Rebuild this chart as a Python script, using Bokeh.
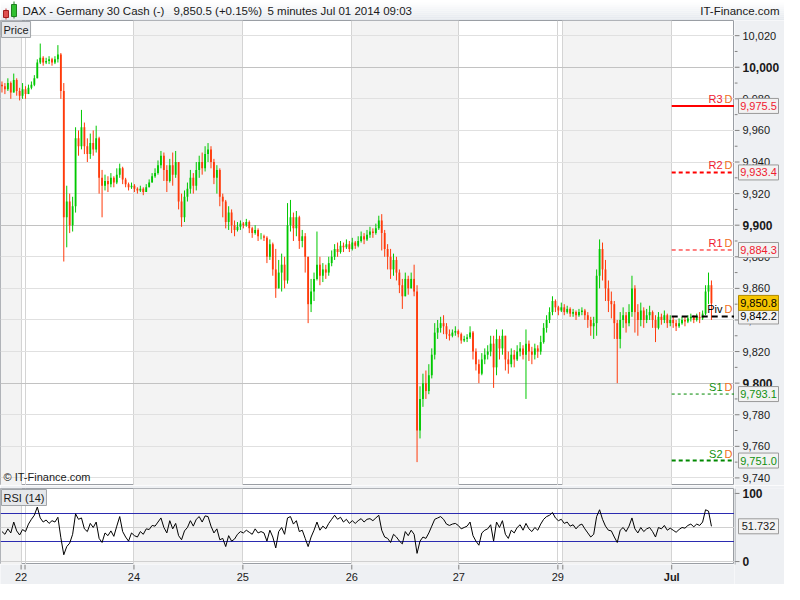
import numpy as np
from bokeh.plotting import figure
from bokeh.layouts import column, row
from bokeh.models import Range1d, Label, ColumnDataSource
from bokeh.core.properties import value
from bokeh.embed import file_html
from bokeh.resources import INLINE

FONT = "Liberation Sans"
AX_BG = "#eef0f3"
UP = "#00c800"
DOWN = "#ff3a0a"
TXT = "#1a1a1a"

# ---------------- data (5-minute DAX bars) ----------------
first_open = 9989.0
closes = [
    9988, 9986, 9990, 9984, 9992, 9985, 9982, 9986, 9983, 9987,
    9989, 9993, 10003, 10006, 10003, 10004, 10005, 10003, 10005, 10008,
    9985, 9905, 9915, 9900, 9912, 9955, 9950, 9962, 9950, 9945,
    9952, 9948, 9955, 9930, 9925, 9928, 9926, 9930, 9927, 9932,
    9936, 9929, 9926, 9924, 9925, 9923, 9922, 9923, 9921, 9924,
    9927, 9931, 9933, 9938, 9944, 9935, 9928, 9938, 9932, 9940,
    9915, 9905, 9918, 9923, 9930, 9925, 9935, 9940, 9936, 9945,
    9948, 9940, 9930, 9935, 9918, 9915, 9902, 9908, 9900, 9897,
    9899, 9901, 9900, 9902, 9898, 9895, 9897, 9893, 9893, 9892,
    9880, 9888, 9872, 9860, 9870, 9875, 9865, 9900, 9905, 9898,
    9905, 9890, 9893, 9880, 9850, 9858, 9866, 9875, 9868, 9872,
    9870, 9876, 9880, 9885, 9883, 9887, 9886, 9888, 9885, 9889,
    9887, 9890, 9893, 9891, 9894, 9896, 9895, 9898, 9903, 9895,
    9885, 9880, 9872, 9878, 9870, 9862, 9855, 9866, 9860, 9866,
    9858, 9770, 9790, 9800, 9795, 9805, 9818, 9832, 9835, 9838,
    9836, 9831, 9830, 9832, 9833, 9831, 9827, 9828, 9829, 9832,
    9820, 9812, 9806, 9815, 9818, 9820, 9825, 9810, 9828, 9822,
    9830, 9815, 9812, 9818, 9815, 9820, 9822, 9818, 9825, 9820,
    9818, 9822, 9820, 9826, 9835, 9840, 9845, 9852, 9848, 9846,
    9848, 9845, 9847, 9844, 9845, 9843, 9845, 9846, 9843, 9840,
    9836, 9838, 9868, 9885, 9872, 9860, 9852, 9850, 9838, 9828,
    9840, 9843, 9838, 9845, 9860, 9845, 9840, 9846, 9840, 9843,
    9845, 9840, 9835, 9842, 9840, 9843, 9838, 9840, 9838, 9836,
    9838, 9840, 9839, 9841, 9842, 9840, 9842, 9841, 9844, 9858,
    9862, 9850.5,
]
highs = [
    9991, 9990, 9993, 9991, 9996, 9993, 9987, 9990, 9988, 9989,
    9991, 9995, 10005, 10015, 10007, 10006, 10007, 10006, 10007, 10014,
    10009, 9990, 9925, 9920, 9918, 9962, 9960, 9973, 9965, 9955,
    9958, 9960, 9963, 9956, 9935, 9932, 9931, 9933, 9931, 9936,
    9939, 9937, 9930, 9927, 9927, 9926, 9924, 9925, 9924, 9926,
    9929, 9933, 9936, 9941, 9947, 9946, 9938, 9942, 9946, 9947,
    9940, 9920, 9922, 9927, 9935, 9933, 9940, 9944, 9946, 9950,
    9952, 9950, 9942, 9938, 9936, 9920, 9916, 9912, 9910, 9903,
    9902, 9903, 9902, 9904, 9903, 9899, 9900, 9898, 9895, 9894,
    9893, 9891, 9889, 9885, 9878, 9882, 9880, 9914, 9916, 9908,
    9909, 9906, 9897, 9895, 9880, 9866, 9870, 9896, 9880, 9876,
    9875, 9880, 9884, 9888, 9889, 9890, 9889, 9891, 9890, 9892,
    9890, 9893, 9896, 9895, 9897, 9899, 9898, 9901, 9906, 9907,
    9897, 9888, 9885, 9882, 9880, 9872, 9866, 9870, 9868, 9870,
    9875, 9862, 9798, 9806, 9808, 9812, 9822, 9838, 9840, 9842,
    9843, 9838, 9834, 9834, 9836, 9834, 9832, 9830, 9831, 9836,
    9833, 9822, 9815, 9819, 9822, 9824, 9830, 9830, 9834, 9830,
    9834, 9830, 9820, 9822, 9821, 9824, 9826, 9824, 9834, 9827,
    9823, 9825, 9824, 9830, 9838, 9843, 9848, 9855, 9853, 9849,
    9851, 9850, 9849, 9848, 9847, 9846, 9847, 9848, 9847, 9845,
    9842, 9842, 9872, 9891, 9889, 9878, 9865, 9858, 9852, 9840,
    9845, 9848, 9845, 9850, 9868, 9862, 9850, 9851, 9848, 9847,
    9849, 9846, 9843, 9845, 9844, 9846, 9844, 9843, 9842, 9840,
    9841, 9842, 9842, 9843, 9844, 9843, 9844, 9845, 9846, 9862,
    9870, 9865,
]
lows = [
    9984, 9983, 9985, 9980, 9984, 9982, 9979, 9980, 9980, 9983,
    9986, 9988, 9993, 10002, 10001, 10002, 10002, 10001, 10002, 10003,
    9980, 9877, 9886, 9895, 9896, 9908, 9944, 9948, 9945, 9940,
    9942, 9944, 9946, 9920, 9905, 9922, 9921, 9924, 9924, 9926,
    9930, 9926, 9924, 9922, 9923, 9921, 9920, 9921, 9919, 9922,
    9924, 9927, 9930, 9932, 9936, 9928, 9921, 9927, 9925, 9930,
    9910, 9899, 9902, 9915, 9920, 9920, 9922, 9930, 9932, 9934,
    9940, 9936, 9926, 9920, 9912, 9905, 9898, 9897, 9895, 9893,
    9896, 9897, 9898, 9899, 9895, 9892, 9894, 9890, 9891, 9890,
    9876, 9878, 9868, 9854, 9862, 9858, 9860, 9863, 9896, 9890,
    9893, 9885, 9886, 9870, 9838, 9845, 9852, 9865, 9862, 9864,
    9866, 9868, 9874, 9878, 9880, 9882, 9883, 9885, 9883, 9884,
    9885, 9886, 9889, 9888, 9890, 9892, 9892, 9894, 9897, 9884,
    9880, 9872, 9866, 9868, 9865, 9857, 9847, 9858, 9856, 9860,
    9855, 9750, 9765, 9785, 9790, 9793, 9803, 9815, 9828, 9832,
    9831, 9828, 9827, 9829, 9830, 9829, 9825, 9826, 9826, 9828,
    9815, 9808, 9800, 9805, 9812, 9815, 9817, 9797, 9805, 9815,
    9818, 9808, 9806, 9810, 9810, 9814, 9817, 9815, 9790, 9814,
    9812, 9815, 9816, 9818, 9825, 9832, 9838, 9843, 9845, 9843,
    9845, 9843, 9844, 9842, 9842, 9840, 9842, 9843, 9840, 9835,
    9830, 9828, 9830, 9860, 9865, 9852, 9845, 9841, 9828, 9800,
    9822, 9835, 9832, 9836, 9842, 9832, 9830, 9836, 9835, 9838,
    9840, 9835, 9826, 9834, 9837, 9838, 9835, 9836, 9835, 9833,
    9835, 9837, 9836, 9838, 9839, 9838, 9839, 9838, 9840, 9843,
    9850, 9840,
]
rsi = [
    44, 40, 48, 42, 58, 45, 39, 47, 44, 55,
    62, 68, 80, 64, 58, 61, 56, 60, 58, 65,
    35, 10, 22, 27, 40, 70, 62, 64, 48, 44,
    56, 50, 58, 34, 28, 42, 38, 45, 37, 52,
    66, 44, 36, 30, 42, 38, 36, 44, 40, 48,
    47, 53, 52, 58, 64, 50, 42, 60, 48, 56,
    38, 32, 45, 50, 60, 52, 62, 66, 58, 67,
    66, 52, 42, 48, 32, 34, 22, 38, 30, 33,
    40, 44, 42, 46, 43, 40, 48, 42, 44, 42,
    30, 46, 36, 20, 44, 50, 40, 64, 66, 55,
    60, 44, 46, 34, 22, 36, 46, 58, 46, 52,
    48, 56, 62, 68, 62, 65, 58, 62, 56, 60,
    56, 60, 63, 58, 62, 63, 60, 64, 68, 46,
    36, 34, 28, 40, 36, 30, 26, 44, 38, 46,
    40, 12, 30, 36, 34, 42, 52, 62, 64, 66,
    62, 55, 53, 55, 56, 53, 48, 50, 52, 58,
    38, 30, 24, 42, 46, 48, 54, 30, 58, 50,
    60, 40, 34, 46, 42, 50, 54, 46, 56, 48,
    44, 50, 46, 55, 62, 66, 68, 72, 64, 60,
    62, 56, 58, 52, 54, 48, 53, 55, 48, 42,
    36, 40, 66, 76, 62, 52, 46, 45, 36, 28,
    46, 50, 44, 52, 64, 48, 42, 50, 44, 48,
    50, 44, 36, 50, 48, 53, 46, 49, 46, 43,
    47, 50, 49, 53, 55, 51, 55, 53, 58, 76,
    74, 51.732,
]

# session boundaries (in bar units) and their labels
day_pos = [6.5, 7.83, 44.83, 81.83, 118.83, 155.17, 188.83, 190.5, 227.5]
day_labels = ["22", "", "24", "25", "26", "27", "29", "", "Jul"]
shade_start = [-0.5, 44.83, 118.83, 190.5]
shade_end = [6.5, 81.83, 155.17, 227.5]

price_ticks = [9740, 9760, 9780, 9800, 9820, 9840, 9860, 9880, 9900, 9920, 9940, 9960, 9980, 10000, 10020]
price_major = [9800, 9900, 10000]
price_minor = [9750, 9770, 9790, 9810, 9830, 9850, 9870, 9890, 9910, 9930, 9950, 9970, 9990, 10010]

pivot_names = ["R3", "R2", "R1", "Piv", "S1", "S2"]
pivot_levels = [9975.5, 9933.4, 9884.3, 9842.2, 9793.1, 9751.0]
last_price = 9850.8
rsi_bands = [30, 70]
rsi_ticks = [0, 100]

title_main = "DAX - Germany 30 Cash (-)"
title_quote = "9,850.5 (+0.15%)"
title_period = "5 minutes  Jul 01 2014 09:03"
title_brand = "IT-Finance.com"

# ---------------- styling ----------------
pivot_line_colors = ["#ff0000", "#ff0000", "#ff0000", "#000000", "#008800", "#008800"]
pivot_text_colors = ["#f02030", "#f02030", "#f02030", "#000000", "#109010", "#109010"]
pivot_widths = [2, 2, 1, 2, 1, 2]
pivot_dashes = ["solid", "4 3", "4 3", "6 4", "3 3", "4 3"]

closes = np.array(closes, float)
opens = np.concatenate([[first_open], closes[:-1]])
hi = np.maximum(np.array(highs, float), np.maximum(opens, closes))
lo = np.minimum(np.array(lows, float), np.minimum(opens, closes))
xi = np.arange(len(closes))
up = closes >= opens

W_MAIN, W_AX = 734, 50
H_TITLE, H_PRICE, H_RSI, H_X = 20, 465, 79, 20
RSI_TOP_GAP = 3

x_end = 248.83
xr = Range1d(-0.5, x_end)
yr = Range1d(9735.2, 10029.6)
rr = Range1d(-4.3, 107.2)
# the RSI axis column also spans the x-axis strip below the RSI panel
rsi_per_px = (rr.end - rr.start) / (H_RSI - RSI_TOP_GAP)
rr_tall = Range1d(rr.start - H_X * rsi_per_px, rr.end)


def make_fig(w, h, x_range, y_range, bg="white", border=None, **kw):
    f = figure(width=w, height=h, x_range=x_range, y_range=y_range,
               output_backend="svg", toolbar_location=None,
               x_axis_type=None, y_axis_type=None, min_border=0, **kw)
    f.background_fill_color = bg
    f.border_fill_color = border or bg
    f.outline_line_color = None
    return f


def txt(f, **kw):
    base = dict(text_font=value(FONT), text_font_size="11px", text_color=TXT,
                text_baseline="middle")
    base.update(kw)
    return f.text(**base)


# ---------------- title bar ----------------
tf = make_fig(W_MAIN + W_AX, H_TITLE, Range1d(0, W_MAIN + W_AX), Range1d(0, H_TITLE))
grad = ["#ffffff", "#fdfdfe", "#fafbfc", "#f7f8fa", "#f4f6f8", "#f1f3f6",
        "#eef1f4", "#ebeef2", "#e8ebf0", "#e5e9ee"]
for k, c in enumerate(grad):
    tf.quad(left=0, right=W_MAIN + W_AX, top=H_TITLE - 2 * k, bottom=H_TITLE - 2 * k - 2,
            fill_color=c, line_color=None)
tf.hspan(y=[0.5], line_color="#a8acb2", line_width=1)
# small candle icon
tf.segment(x0=[5.5], y0=[1], x1=[5.5], y1=[12], line_color="#c03030")
tf.quad(left=[3], right=[8], top=[10], bottom=[3], fill_color="#e05050", line_color="#a02020")
tf.segment(x0=[13.5], y0=[2], x1=[13.5], y1=[19], line_color="#208020")
tf.quad(left=[11], right=[16], top=[16], bottom=[4], fill_color="#30c030", line_color="#208020")
txt(tf, x=[22], y=[10], text=[title_main], text_font_size="11.5px")
txt(tf, x=[173], y=[10], text=[title_quote], text_font_size="11.5px")
txt(tf, x=[267], y=[10], text=[title_period], text_font_size="11.5px")
txt(tf, x=[W_MAIN + W_AX - 5], y=[10], text=[title_brand], text_font_size="11.5px",
    text_align="right")

# ---------------- price panel ----------------
p = make_fig(W_MAIN, H_PRICE, xr, yr)
p.outline_line_color = "#9a9ea4"
p.vstrip(x0=shade_start, x1=shade_end, fill_color="#f3f3f3", line_color=None)
p.vspan(x=day_pos, line_color="#d4d4d4", line_width=1)
p.hspan(y=[t for t in price_ticks if t not in price_major], line_color="#e0e0e0")
p.hspan(y=price_major, line_color="#c2c2c2")

for mask, col in ((up, UP), (~up, DOWN)):
    src = ColumnDataSource(dict(
        x=xi[mask], hi=hi[mask], lo=lo[mask],
        top=np.maximum(opens, closes)[mask], bot=np.minimum(opens, closes)[mask]))
    p.segment(x0="x", y0="lo", x1="x", y1="hi", source=src, line_color=col, line_width=1)
    p.vbar(x="x", width=0.62, top="top", bottom="bot", source=src,
           fill_color=col, line_color=None)

jul = day_pos[-1]
for lvl, col, lw, dash in zip(pivot_levels, pivot_line_colors, pivot_widths, pivot_dashes):
    p.segment(x0=[jul], y0=[lvl], x1=[x_end], y1=[lvl], line_color=col,
              line_width=lw, line_dash=dash)
txt(p, x=[x_end] * len(pivot_levels), y=pivot_levels, text=pivot_names,
    text_color=pivot_text_colors, text_align="right", text_baseline="bottom",
    x_offset=-12, y_offset=-1)
txt(p, x=[x_end] * len(pivot_levels), y=pivot_levels, text=["D"] * len(pivot_levels),
    text_color="#f07020", text_align="right", text_baseline="bottom",
    x_offset=-2, y_offset=-1)

p.add_layout(Label(x=1, y=H_PRICE - 1, x_units="screen", y_units="screen", text="Price",
                   text_font=FONT, text_font_size="11px", text_color=TXT,
                   text_baseline="top", background_fill_color="#e6e8eb",
                   border_line_color="#a0a4a8", padding=2))
p.add_layout(Label(x=3, y=3, x_units="screen", y_units="screen", text="\u00a9 IT-Finance.com",
                   text_font=FONT, text_font_size="11px", text_color=TXT,
                   text_baseline="bottom"))

# price axis
pa = make_fig(W_AX, H_PRICE, Range1d(0, W_AX), yr, bg=AX_BG)
pa.segment(x0=0, y0=price_ticks, x1=5, y1=price_ticks, line_color="#808080")
pa.segment(x0=0, y0=price_minor, x1=3, y1=price_minor, line_color="#808080")
reg = [t for t in price_ticks if t not in price_major]
txt(pa, x=[8] * len(reg), y=reg, text=[f"{t:,}" for t in reg])
txt(pa, x=[8] * len(price_major), y=price_major, text=[f"{t:,}" for t in price_major],
    text_font_style="bold", text_font_size="12px")
pa.rect(x=24, y=pivot_levels, width=40, height=15, height_units="screen",
        fill_color="#f2f2f2", line_color="#9a9a9a")
txt(pa, x=[24] * len(pivot_levels), y=pivot_levels, text=[f"{v:,.1f}" for v in pivot_levels],
    text_color=pivot_text_colors, text_align="center")
pa.rect(x=24, y=[last_price], width=40, height=15, height_units="screen",
        fill_color="#f5c400", line_color="#b08a00")
txt(pa, x=[24], y=[last_price], text=[f"{last_price:,.1f}"], text_align="center",
    text_color="#000000")

# ---------------- RSI panel ----------------
r = make_fig(W_MAIN, H_RSI, xr, rr, border=AX_BG, min_border_top=RSI_TOP_GAP)
r.outline_line_color = "#9a9ea4"
r.vstrip(x0=shade_start, x1=shade_end, fill_color="#f3f3f3", line_color=None)
r.vspan(x=day_pos, line_color="#d4d4d4", line_width=1)
r.hspan(y=[0, 50], line_color="#d0d0d0")
r.hspan(y=rsi_bands, line_color="#2b2bb0", line_width=1)
r.line(xi, rsi, line_color="#000000", line_width=1)
r.add_layout(Label(x=1, y=H_RSI - 4, x_units="screen", y_units="screen", text="RSI (14)",
                   text_font=FONT, text_font_size="11px", text_color=TXT,
                   text_baseline="top", background_fill_color="#e6e8eb",
                   border_line_color="#a0a4a8", padding=2))

# RSI axis (tall: covers RSI panel + x-axis strip)
ra = make_fig(W_AX, H_RSI + H_X, Range1d(0, W_AX), rr_tall, bg=AX_BG,
              min_border_top=RSI_TOP_GAP)
ra.segment(x0=0, y0=rsi_ticks, x1=5, y1=rsi_ticks, line_color="#808080")
ra.segment(x0=[0.5], y0=[rr.start], x1=[0.5], y1=[rr.end], line_color="#9a9ea4")
txt(ra, x=[8] * len(rsi_ticks), y=rsi_ticks, text=[str(t) for t in rsi_ticks],
    text_font_style="bold", text_font_size="12px")
ra.rect(x=24, y=[rsi[-1]], width=40, height=15, height_units="screen",
        fill_color="#f2f2f2", line_color="#9a9a9a")
txt(ra, x=[24], y=[rsi[-1]], text=[f"{rsi[-1]:.3f}"], text_align="center")

# ---------------- x axis ----------------
xf = make_fig(W_MAIN, H_X, xr, Range1d(0, H_X), bg=AX_BG)
xf.segment(x0=day_pos, y0=H_X, x1=day_pos, y1=H_X - 5, line_color="#808080")
lab_x = [d for d, l in zip(day_pos, day_labels) if l and l != "Jul"]
lab_t = [l for l in day_labels if l and l != "Jul"]
txt(xf, x=lab_x, y=[8] * len(lab_x), text=lab_t, text_align="center")
jul_x = [d for d, l in zip(day_pos, day_labels) if l == "Jul"]
txt(xf, x=jul_x, y=[8] * len(jul_x), text=["Jul"] * len(jul_x), text_align="center",
    text_font_style="bold")

layout = column(tf, row(p, pa), row(column(r, xf), ra))
open("out.html", "w").write(file_html(layout, INLINE))
